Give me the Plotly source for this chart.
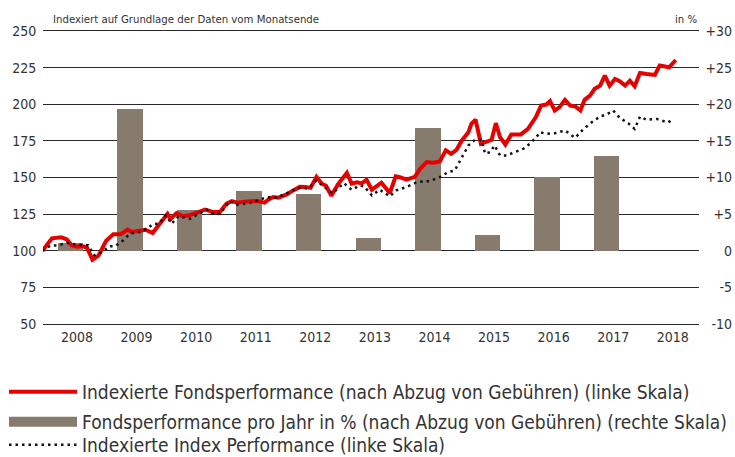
import plotly.graph_objects as go

# ---- data ----
fund_t = [2007.92, 2008.08, 2008.24, 2008.33, 2008.41, 2008.50, 2008.58, 2008.67, 2008.76, 2008.86,
          2008.99, 2009.11, 2009.24, 2009.35, 2009.42, 2009.55, 2009.65, 2009.77, 2009.89, 2010.02,
          2010.07, 2010.17, 2010.28, 2010.38, 2010.54, 2010.65, 2010.79, 2010.90, 2011.01, 2011.10,
          2011.19, 2011.35, 2011.52, 2011.65, 2011.71, 2011.79, 2011.88, 2012.02, 2012.13, 2012.24,
          2012.33, 2012.42, 2012.52, 2012.61, 2012.68, 2012.77, 2012.88, 2013.03, 2013.11, 2013.20,
          2013.28, 2013.36, 2013.45, 2013.61, 2013.75, 2013.85, 2013.92, 2014.03, 2014.17, 2014.26,
          2014.37, 2014.48, 2014.59, 2014.69, 2014.78, 2014.87, 2014.96, 2015.07, 2015.12, 2015.19,
          2015.28, 2015.37, 2015.46, 2015.53, 2015.60, 2015.69, 2015.79, 2015.95, 2016.07, 2016.20,
          2016.29, 2016.38, 2016.44, 2016.52, 2016.60, 2016.69, 2016.78, 2016.87, 2016.95, 2017.02,
          2017.11, 2017.19, 2017.28, 2017.36, 2017.44, 2017.53, 2017.61, 2017.70, 2017.78, 2017.86,
          2017.95, 2018.06, 2018.20, 2018.28, 2018.44, 2018.55]
fund_v = [100.0, 108.5, 109.2, 107.8, 103.7, 102.7, 103.3, 102.0, 93.9, 96.6,
          106.8, 111.2, 111.4, 114.4, 112.8, 113.4, 114.3, 112.1, 118.5, 125.2,
          121.5, 125.7, 123.5, 124.2, 126.4, 128.1, 126.4, 126.4, 132.2, 133.9,
          132.8, 133.7, 133.9, 132.8, 134.9, 136.6, 136.2, 138.5, 141.2, 143.6,
          143.5, 142.9, 150.4, 145.8, 144.3, 137.5, 145.3, 153.1, 145.8, 146.7,
          146.0, 148.4, 141.7, 146.5, 139.4, 150.8, 150.3, 148.5, 150.4, 156.0,
          160.5, 160.1, 161.0, 168.5, 166.2, 168.9, 175.3, 180.9, 186.6, 189.4,
          173.0, 174.1, 175.7, 187.1, 177.5, 172.5, 179.4, 179.4, 183.2, 191.1,
          199.1, 199.8, 202.2, 195.7, 198.0, 203.0, 199.1, 198.4, 195.7, 203.0,
          205.9, 210.5, 212.7, 219.6, 212.7, 217.3, 215.7, 212.7, 216.1, 212.3,
          221.4, 220.7, 220.0, 226.4, 225.2, 230.2]

index_t = [2007.92, 2008.05, 2008.19, 2008.33, 2008.50, 2008.69, 2008.79, 2008.89, 2009.05, 2009.14,
           2009.28, 2009.39, 2009.56, 2009.67, 2009.78, 2009.88, 2009.99, 2010.09, 2010.20, 2010.40,
           2010.56, 2010.68, 2010.79, 2010.90, 2011.07, 2011.18, 2011.35, 2011.54, 2011.68, 2011.85,
           2012.07, 2012.21, 2012.39, 2012.52, 2012.63, 2012.79, 2012.98, 2013.11, 2013.25, 2013.32,
           2013.45, 2013.58, 2013.75, 2013.86, 2014.03, 2014.20, 2014.34, 2014.42, 2014.59, 2014.73,
           2014.84, 2014.96, 2015.07, 2015.18, 2015.29, 2015.35, 2015.43, 2015.51, 2015.60, 2015.71,
           2015.85, 2015.99, 2016.10, 2016.21, 2016.27, 2016.38, 2016.52, 2016.69, 2016.77, 2016.86,
           2016.99, 2017.14, 2017.28, 2017.39, 2017.50, 2017.61, 2017.75, 2017.86, 2017.95, 2018.06,
           2018.23, 2018.34, 2018.42, 2018.51]
index_v = [100.0, 103.4, 103.7, 105.4, 104.1, 103.7, 96.9, 98.3, 103.1, 103.1,
           107.2, 111.7, 112.8, 115.1, 118.1, 118.5, 124.2, 118.5, 123.5, 121.9,
           125.7, 128.1, 124.9, 125.3, 133.9, 131.5, 132.2, 134.4, 136.6, 136.2,
           140.1, 142.9, 142.6, 148.0, 144.3, 139.2, 146.2, 141.6, 144.6, 143.9,
           137.8, 141.7, 137.1, 141.2, 143.5, 146.7, 147.5, 147.5, 150.3, 153.7,
           154.8, 163.9, 171.9, 175.7, 175.7, 166.2, 167.3, 171.9, 165.1, 165.1,
           167.3, 169.6, 173.0, 177.5, 180.9, 179.8, 180.2, 182.1, 179.8, 177.1,
           182.6, 187.7, 191.6, 193.0, 195.7, 190.7, 187.1, 183.2, 191.6, 189.4,
           190.0, 188.4, 187.5, 190.0]

bar_years = [2008, 2009, 2010, 2011, 2012, 2013, 2014, 2015, 2016, 2017]
bar_pct = [1.1, 19.3, 5.6, 8.1, 7.8, 1.8, 16.8, 2.1, 10.1, 13.0]

year_labels = ["2008", "2009", "2010", "2011", "2012", "2013", "2014", "2015", "2016", "2017", "2018"]
left_ticks = [50, 75, 100, 125, 150, 175, 200, 225, 250]
right_ticks = [-10, -5, 0, 5, 10, 15, 20, 25, 30]
right_ticktext = ["-10", "-5", "0", "+5", "+10", "+15", "+20", "+25", "+30"]

legend_names = [
    "Indexierte Fondsperformance (nach Abzug von Gebühren) (linke Skala)",
    "Fondsperformance pro Jahr in % (nach Abzug von Gebühren) (rechte Skala)",
    "Indexierte Index Performance (linke Skala)",
]
title_left = "Indexiert auf Grundlage der Daten vom Monatsende"
title_right = "in %"

# ---- styling ----
FONT = "DejaVu Sans Condensed, Liberation Sans Narrow, sans-serif"
TXT = "#333333"
RED = "#e60000"
TAUPE = "#877b6e"
GRID = "#2a2a2a"

W, H = 735, 457
ML, MR, MT, MB = 43, 0, 31, 133
plot_right = 699
PW = W - ML - MR

fig = go.Figure()

fig.add_trace(go.Bar(
    x=[y + 0.39 for y in bar_years], y=bar_pct, width=0.425,
    marker=dict(color=TAUPE, line=dict(width=0)),
    yaxis="y", showlegend=False, hoverinfo="skip",
))

fig.add_trace(go.Scatter(
    x=fund_t, y=fund_v, mode="lines", yaxis="y2",
    line=dict(color=RED, width=4), name=legend_names[0], legend="legend",
))

# legend proxy for the bar series (wide rectangle symbol)
fig.add_trace(go.Scatter(
    x=[None], y=[None], mode="lines", yaxis="y2",
    line=dict(color=TAUPE, width=11), name=legend_names[1], legend="legend2",
))

fig.add_trace(go.Scatter(
    x=index_t, y=index_v, mode="lines", yaxis="y2",
    line=dict(color="#111111", width=2.5, dash="2.5px,4px"),
    name=legend_names[2], legend="legend3",
))

leg_common = dict(
    xref="container", yref="container", x=4 / W, xanchor="left", yanchor="middle",
    font=dict(family=FONT, size=19.0, color=TXT), bgcolor="rgba(0,0,0,0)",
    itemwidth=68, borderwidth=0,
)

tickfont = dict(size=14, color=TXT, family=FONT)

fig.update_layout(
    width=W, height=H,
    margin=dict(l=ML, r=MR, t=MT, b=MB, autoexpand=False),
    paper_bgcolor="white", plot_bgcolor="white",
    font=dict(family=FONT, color=TXT, size=14),
    bargap=0,
    xaxis=dict(
        domain=[0, (plot_right - ML) / PW],
        range=[2007.93, 2018.94],
        tickvals=[int(y) + 0.5 for y in year_labels], ticktext=year_labels,
        showgrid=False, zeroline=False,
        showline=True, mirror=True, linecolor=GRID, linewidth=1.3,
        ticks="", tickfont=tickfont,
    ),
    yaxis=dict(
        side="right", anchor="free", position=1,
        range=[-10, 30], tickvals=right_ticks, ticktext=right_ticktext,
        ticklabelposition="inside", ticklabeloverflow="allow", ticklabelstandoff=0,
        ticks="",
        showgrid=True, gridcolor=GRID, gridwidth=1.3,
        zeroline=False, showline=False,
        tickfont=tickfont,
    ),
    yaxis2=dict(
        overlaying="y", side="left", anchor="x",
        range=[50, 250], tickvals=left_ticks,
        showgrid=False, zeroline=False, showline=False,
        ticks="outside", ticklen=3, tickcolor="rgba(0,0,0,0)",
        tickfont=tickfont,
    ),
    legend=dict(y=1 - 392 / H, **leg_common),
    legend2=dict(y=1 - 422 / H, **leg_common),
    legend3=dict(y=1 - 445 / H, **leg_common),
    annotations=[
        dict(text=title_left, xref="paper", yref="paper",
             x=(51 - ML) / PW, y=1, xanchor="left", yanchor="middle",
             yshift=12, showarrow=False, font=dict(family=FONT, size=11.3, color=TXT)),
        dict(text=title_right, xref="paper", yref="paper",
             x=(699 - ML) / PW, y=1, xanchor="right", yanchor="middle",
             yshift=12, showarrow=False, font=dict(family=FONT, size=11.3, color=TXT)),
    ],
)

fig.write_html("out.html")
